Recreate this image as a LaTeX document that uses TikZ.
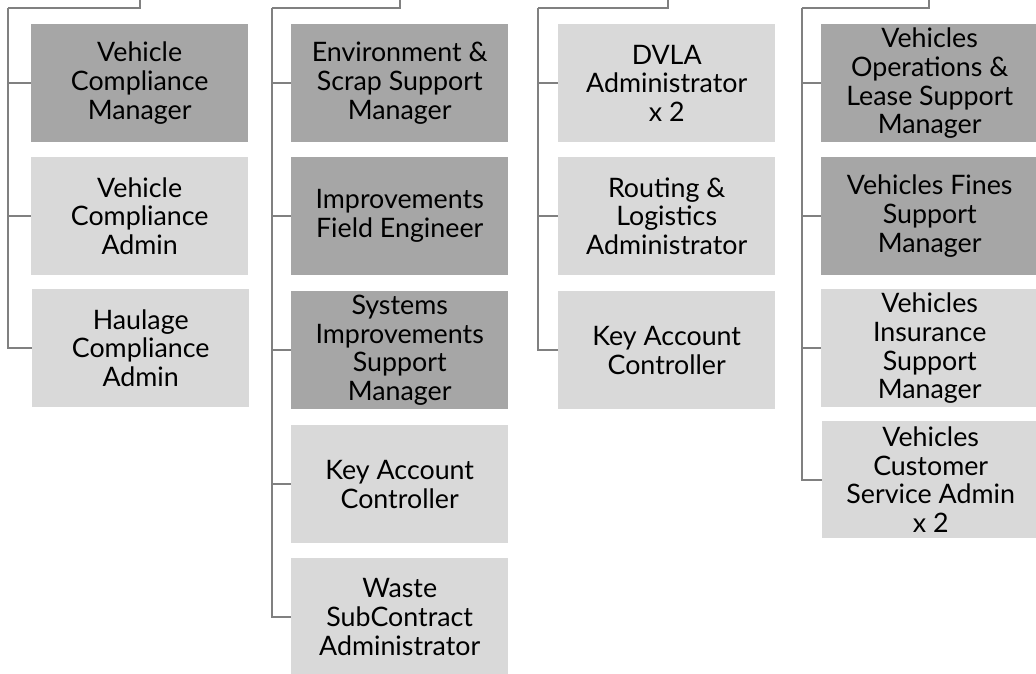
\documentclass[tikz,border=0pt]{standalone}
\usepackage{fontspec}
\setmainfont{Lato}
\definecolor{darkbox}{HTML}{A6A6A6}
\definecolor{lightbox}{HTML}{D9D9D9}
\definecolor{linkgray}{HTML}{808080}
\tikzset{
  box/.style={anchor=north west, minimum width=217pt, minimum height=118pt, inner sep=0pt,
    align=center, font=\fontsize{26.8}{28.8}\selectfont, text=black},
  darkbx/.style={box, fill=darkbox},
  lightbx/.style={box, fill=lightbox},
  link/.style={draw=linkgray, line width=2pt}
}
\begin{document}
\begin{tikzpicture}[x=1pt,y=-1pt]
\useasboundingbox (0,0) rectangle (1036,674);
% column 1
\node[darkbx]  (a1) at (31,24)  {Vehicle\\Compliance\\Manager};
\node[lightbx] (a2) at (31,157) {Vehicle\\Compliance\\Admin};
\node[lightbx] (a3) at (32,289) {Haulage\\Compliance\\Admin};
% column 2
\node[darkbx]  (b1) at (291,24)  {Environment \&\\Scrap Support\\Manager};
\node[darkbx]  (b2) at (291,157) {Improvements\\Field Engineer};
\node[darkbx]  (b3) at (291,291) {Systems\\Improvements\\Support\\Manager};
\node[lightbx] (b4) at (291,425) {Key Account\\Controller};
\node[lightbx] (b5) at (291,558) {Waste\\SubContract\\Administrator};
% column 3
\node[lightbx] (c1) at (558,24)  {DVLA\\Administrator\\x 2};
\node[lightbx] (c2) at (558,157) {Routing \&\\Logistics\\Administrator};
\node[lightbx] (c3) at (558,291) {Key Account\\Controller};
% column 4
\node[darkbx]  (d1) at (821,24)  {Vehicles\\Operations \&\\Lease Support\\Manager};
\node[darkbx]  (d2) at (821,157) {Vehicles Fines\\Support\\Manager};
\node[lightbx] (d3) at (821,289) {Vehicles\\Insurance\\Support\\Manager};
\node[lightbx, minimum height=117pt] (d4) at (822,421) {Vehicles\\Customer\\Service Admin\\x 2};
% connector anchors
\coordinate (at) at (140,-2);  \coordinate (ac) at (8,8);
\coordinate (bt) at (400,-2);  \coordinate (bc) at (272,8);
\coordinate (ct) at (668,-2);  \coordinate (cc) at (538,8);
\coordinate (dt) at (929,-2);  \coordinate (dc) at (802,8);
\draw[link] (at) |- (ac);
\draw[link] (bt) |- (bc);
\draw[link] (ct) |- (cc);
\draw[link] (dt) |- (dc);
\foreach \n in {a1,a2,a3} \draw[link] (ac) |- (\n.west);
\foreach \n in {b1,b2,b3,b4,b5} \draw[link] (bc) |- (\n.west);
\foreach \n in {c1,c2,c3} \draw[link] (cc) |- (\n.west);
\foreach \n in {d1,d2,d3,d4} \draw[link] (dc) |- (\n.west);
\end{tikzpicture}
\end{document}
